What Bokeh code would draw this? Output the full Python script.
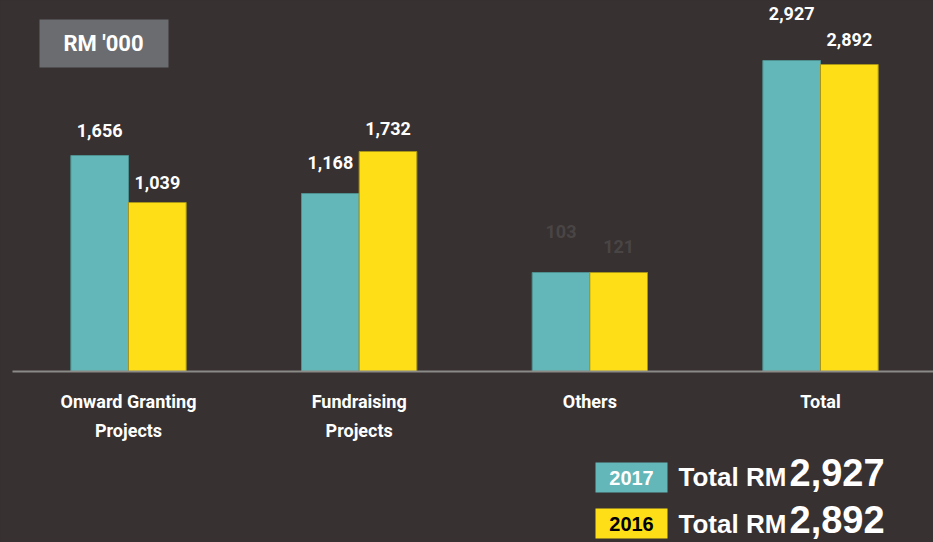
from bokeh.plotting import figure
from bokeh.models import Range1d, ColumnDataSource
from bokeh.core.properties import value
from bokeh.embed import file_html
from bokeh.resources import INLINE

# ---- data ----
categories = ["Onward Granting\nProjects", "Fundraising\nProjects", "Others", "Total"]
values_2017 = [1656, 1168, 103, 2927]
values_2016 = [1039, 1732, 121, 2892]
# bar heights as drawn in the original (stylised, not proportional), in pixel units
bar_height_2017 = [216, 178, 99, 311]
bar_height_2016 = [169, 220, 99, 307]
legend_years = ["2017", "2016"]
legend_totals = ["2,927", "2,892"]
unit_label = "RM '000"

# ---- style / layout ----
W, H = 933, 542
BG = "#373131"
TEAL = "#63b7b8"
YELLOW = "#fedf17"
BOX_GREY = "#6b6c70"
COND = value("Roboto")
SANS = value("Liberation Sans")
label_offset_2017 = [25, 31, 41, 47]
label_offset_2016 = [20, 23, 26, 25]
label_color_2017 = ["white", "white", "#4a4545", "white"]
label_color_2016 = ["white", "white", "#4a4545", "white"]

SPACING = 230.67          # px between category centres
X0 = -128 / SPACING
X1 = X0 + W / SPACING
BASE = 371                # baseline, px from top
sx = (X1 - X0) / W


def dx(px):
    return X0 + px * sx


def dy(py):
    return BASE - py


p = figure(width=W, height=H, output_backend="svg", toolbar_location=None,
           x_range=Range1d(X0, X1), y_range=Range1d(BASE - H, BASE),
           x_axis_type=None, y_axis_type=None, min_border=0,
           background_fill_color=BG, border_fill_color=BG, outline_line_color=None)
p.grid.visible = False

n = len(categories)
idx = list(range(n))
bw = 0.25
src = ColumnDataSource(dict(
    x17=[i - bw / 2 for i in idx], x16=[i + bw / 2 for i in idx],
    h17=bar_height_2017, h16=bar_height_2016,
    t17=[f"{v:,}" for v in values_2017], t16=[f"{v:,}" for v in values_2016],
    y17=[h + o for h, o in zip(bar_height_2017, label_offset_2017)],
    y16=[h + o for h, o in zip(bar_height_2016, label_offset_2016)],
    c17=label_color_2017, c16=label_color_2016,
))

p.vbar(x="x17", top="h17", bottom=0, width=bw, source=src,
       fill_color=TEAL, line_color="#4e8f90", line_width=1)
p.vbar(x="x16", top="h16", bottom=0, width=bw, source=src,
       fill_color=YELLOW, line_color="#a99617", line_width=1)

p.text(x="x17", y="y17", text="t17", source=src, text_color="c17",
       text_font=COND, text_font_style="bold", text_font_size="18px",
       text_align="center", text_baseline="middle")
p.text(x="x16", y="y16", text="t16", source=src, text_color="c16",
       text_font=COND, text_font_style="bold", text_font_size="18px",
       text_align="center", text_baseline="middle")

# baseline
p.segment(x0=[dx(12)], y0=[0], x1=[X1], y1=[0], line_color="#8a8a87", line_width=2)

# category labels
cat_lines1 = [c.split("\n")[0] for c in categories]
cat_lines2 = [c.split("\n")[1] if "\n" in c else "" for c in categories]
p.text(x=idx, y=[dy(401)] * n, text=cat_lines1, text_color="white",
       text_font=COND, text_font_style="bold", text_font_size="18px",
       text_align="center", text_baseline="middle")
p.text(x=idx, y=[dy(430)] * n, text=cat_lines2, text_color="white",
       text_font=COND, text_font_style="bold", text_font_size="18px",
       text_align="center", text_baseline="middle")

# unit box
p.quad(left=[dx(39)], right=[dx(168)], top=[dy(19)], bottom=[dy(67)],
       fill_color=BOX_GREY, line_color=None)
p.text(x=[dx(103)], y=[dy(43)], text=[unit_label], text_color="white",
       text_font=COND, text_font_style="bold", text_font_size="22px",
       text_align="center", text_baseline="middle")

# legend
box_tops = [462, 508]
box_fill = [TEAL, YELLOW]
year_color = ["white", "black"]
baselines = [485, 532]
p.quad(left=[dx(595)] * 2, right=[dx(667)] * 2,
       top=[dy(t) for t in box_tops], bottom=[dy(t + 30) for t in box_tops],
       fill_color=box_fill, line_color=None)
p.text(x=[dx(631)] * 2, y=[dy(t + 15.5) for t in box_tops], text=legend_years,
       text_color=year_color, text_font=SANS, text_font_style="bold",
       text_font_size="20px", text_align="center", text_baseline="middle")
p.text(x=[dx(678)] * 2, y=[dy(b - 9) for b in baselines], text=["Total RM"] * 2,
       text_color="white", text_font=SANS, text_font_style="bold",
       text_font_size="26px", text_align="left", text_baseline="middle")
p.text(x=[dx(789)] * 2, y=[dy(b - 13) for b in baselines], text=legend_totals,
       text_color="white", text_font=SANS, text_font_style="bold",
       text_font_size="38px", text_align="left", text_baseline="middle")

html = file_html(p, INLINE)
html = html.replace("</head>", "<style>html,body{background:#373131;}</style></head>", 1)
open("out.html", "w").write(html)
